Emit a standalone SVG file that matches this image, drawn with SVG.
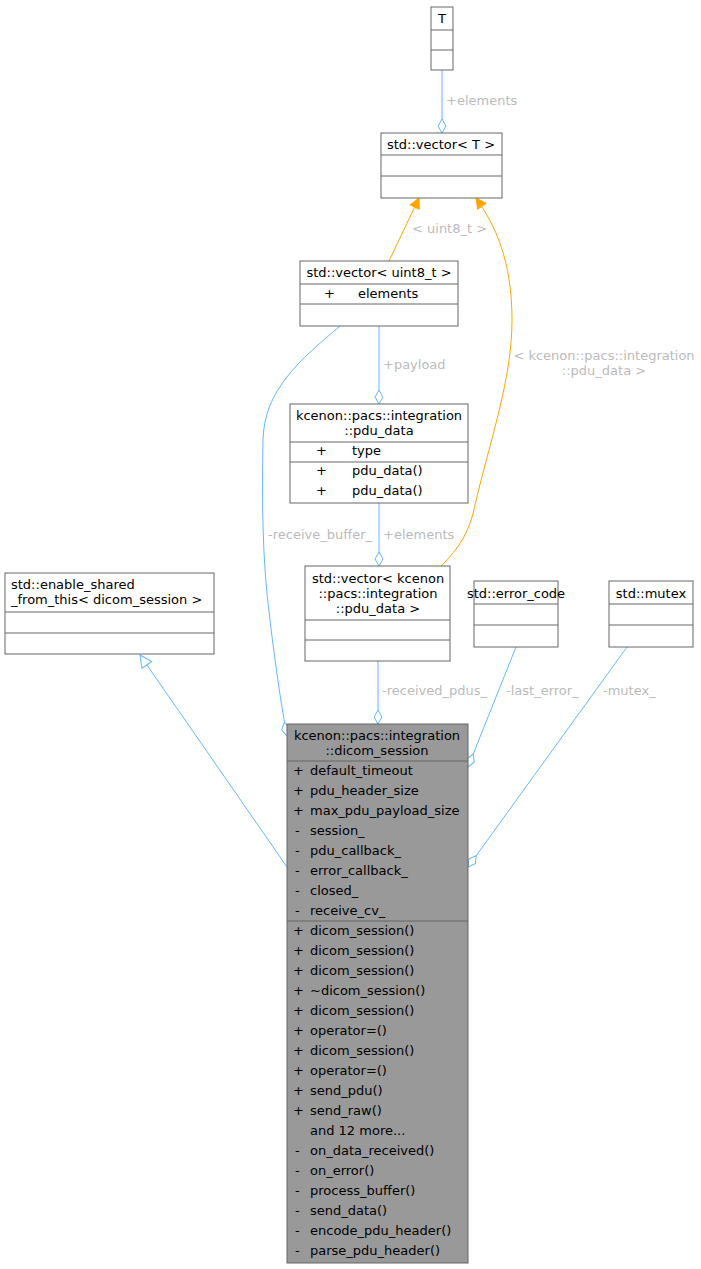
<svg xmlns="http://www.w3.org/2000/svg" width="701" height="1269" viewBox="0 0 701 1269">
<style>
text{font-family:"DejaVu Sans",sans-serif;font-size:13px;fill:#000}
.b{fill:#fff;stroke:#666;stroke-width:1}
.g{fill:#999;stroke:#666;stroke-width:1}
.l{fill:none;stroke:#666;stroke-width:1}
.e{fill:none;stroke:#63b8ff;stroke-width:1}
.o{fill:none;stroke:#ffa500;stroke-width:1}
.lb{fill:#bbb}
.c{text-anchor:middle}
</style>
<defs>
<marker id="dia" markerWidth="16" markerHeight="10" refX="15" refY="5" orient="auto" markerUnits="userSpaceOnUse"><path d="M1,5 L8,1 L15,5 L8,9 Z" fill="#fff" stroke="#63b8ff"/></marker>
<marker id="arr" markerWidth="12" markerHeight="12" refX="11" refY="6" orient="auto" markerUnits="userSpaceOnUse"><path d="M1,1 L11,6 L1,11 Z" fill="#ffa500" stroke="#ffa500"/></marker>
<marker id="tri" markerWidth="14" markerHeight="14" refX="13" refY="7" orient="auto" markerUnits="userSpaceOnUse"><path d="M1,1 L13,7 L1,13 Z" fill="#fff" stroke="#63b8ff"/></marker>
</defs>
<g id="edges">
<path class="e" d="M442,70 L442,133" marker-end="url(#dia)"/>
<text class="lb" x="446" y="105">+elements</text>
<path class="o" d="M389,261 L419,198" marker-end="url(#arr)"/>
<text class="lb" x="412" y="233">&lt; uint8_t &gt;</text>
<path class="o" d="M441,566 C460,548 470,530 475,505 C490,440 512,380 512,320 C512,260 495,225 476,198" marker-end="url(#arr)"/>
<text class="lb c" x="604" y="360">&lt; kcenon::pacs::integration</text>
<text class="lb c" x="604" y="375">::pdu_data &gt;</text>
<path class="e" d="M379,326 L379,404" marker-end="url(#dia)"/>
<text class="lb" x="383" y="369">+payload</text>
<path class="e" d="M379,503 L379,566" marker-end="url(#dia)"/>
<text class="lb" x="383" y="539">+elements</text>
<path class="e" d="M340,326 C300,360 264,390 263,440 C262,500 262,560 270,620 C276,670 282,710 287,736" marker-end="url(#dia)"/>
<text class="lb" x="268" y="539">-receive_buffer_</text>
<path class="e" d="M378,661 L378,724" marker-end="url(#dia)"/>
<text class="lb" x="382" y="695">-received_pdus_</text>
<path class="e" d="M516,647 L468,767" marker-end="url(#dia)"/>
<text class="lb" x="506" y="695">-last_error_</text>
<path class="e" d="M627,647 L468,867" marker-end="url(#dia)"/>
<text class="lb" x="603" y="695">-mutex_</text>
<path class="e" d="M287,867 L140,655" marker-end="url(#tri)"/>
</g>
<g id="T"><rect class="b" x="431" y="7" width="22" height="63"/><path class="l" d="M431,30H453M431,50H453"/><text class="c" x="442" y="23">T</text></g>
<g id="vecT"><rect class="b" x="381" y="133" width="121" height="65"/><path class="l" d="M381,155H502M381,176H502"/><text class="c" x="441" y="149">std::vector&lt; T &gt;</text></g>
<g id="vecU8"><rect class="b" x="300" y="261" width="158" height="65"/><path class="l" d="M300,284H458M300,304H458"/><text class="c" x="379" y="277">std::vector&lt; uint8_t &gt;</text><text x="324" y="298">+</text><text x="358" y="298">elements</text></g>
<g id="pdu"><rect class="b" x="290" y="404" width="178" height="99"/><path class="l" d="M290,442H468M290,462H468"/><text class="c" x="379" y="420">kcenon::pacs::integration</text><text class="c" x="379" y="435">::pdu_data</text><text x="316" y="455">+</text><text x="352" y="455">type</text><text x="316" y="475">+</text><text x="352" y="475">pdu_data()</text><text x="316" y="495">+</text><text x="352" y="495">pdu_data()</text></g>
<g id="vecPdu"><rect class="b" x="305" y="566" width="145" height="95"/><path class="l" d="M305,620H450M305,640H450"/><text class="c" x="378" y="583">std::vector&lt; kcenon</text><text class="c" x="378" y="598">::pacs::integration</text><text class="c" x="378" y="613">::pdu_data &gt;</text></g>
<g id="errc"><rect class="b" x="474" y="581" width="84" height="66"/><path class="l" d="M474,604H558M474,625H558"/><text class="c" x="516" y="598">std::error_code</text></g>
<g id="mutex"><rect class="b" x="609" y="581" width="84" height="66"/><path class="l" d="M609,604H693M609,625H693"/><text class="c" x="651" y="598">std::mutex</text></g>
<g id="esft"><rect class="b" x="5" y="573" width="209" height="81"/><path class="l" d="M5,612H214M5,633H214"/><text x="11" y="589">std::enable_shared</text><text x="11" y="604">_from_this&lt; dicom_session &gt;</text></g>
<g id="dicom"><rect class="g" x="287" y="724" width="181" height="539"/><path class="l" d="M287,761H468M287,921H468"/>
<text class="c" x="377" y="740">kcenon::pacs::integration</text><text class="c" x="377" y="755">::dicom_session</text>
<text x="293" y="775">+</text><text x="310" y="775">default_timeout</text>
<text x="293" y="795">+</text><text x="310" y="795">pdu_header_size</text>
<text x="293" y="815">+</text><text x="310" y="815">max_pdu_payload_size</text>
<text x="295" y="835">-</text><text x="310" y="835">session_</text>
<text x="295" y="855">-</text><text x="310" y="855">pdu_callback_</text>
<text x="295" y="875">-</text><text x="310" y="875">error_callback_</text>
<text x="295" y="895">-</text><text x="310" y="895">closed_</text>
<text x="295" y="915">-</text><text x="310" y="915">receive_cv_</text>
<text x="293" y="935">+</text><text x="310" y="935">dicom_session()</text>
<text x="293" y="955">+</text><text x="310" y="955">dicom_session()</text>
<text x="293" y="975">+</text><text x="310" y="975">dicom_session()</text>
<text x="293" y="995">+</text><text x="310" y="995">~dicom_session()</text>
<text x="293" y="1015">+</text><text x="310" y="1015">dicom_session()</text>
<text x="293" y="1035">+</text><text x="310" y="1035">operator=()</text>
<text x="293" y="1055">+</text><text x="310" y="1055">dicom_session()</text>
<text x="293" y="1075">+</text><text x="310" y="1075">operator=()</text>
<text x="293" y="1095">+</text><text x="310" y="1095">send_pdu()</text>
<text x="293" y="1115">+</text><text x="310" y="1115">send_raw()</text>
<text x="310" y="1135">and 12 more...</text>
<text x="295" y="1155">-</text><text x="310" y="1155">on_data_received()</text>
<text x="295" y="1175">-</text><text x="310" y="1175">on_error()</text>
<text x="295" y="1195">-</text><text x="310" y="1195">process_buffer()</text>
<text x="295" y="1215">-</text><text x="310" y="1215">send_data()</text>
<text x="295" y="1235">-</text><text x="310" y="1235">encode_pdu_header()</text>
<text x="295" y="1255">-</text><text x="310" y="1255">parse_pdu_header()</text>
</g>
</svg>
